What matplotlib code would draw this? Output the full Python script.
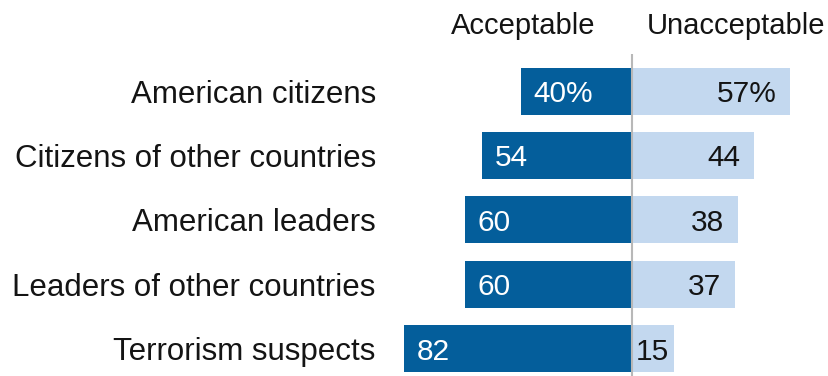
import matplotlib
matplotlib.use("Agg")

import matplotlib.pyplot as plt
import matplotlib.transforms as mtransforms

categories = [
    "American citizens",
    "Citizens of other countries",
    "American leaders",
    "Leaders of other countries",
    "Terrorism suspects",
]
acceptable = [40, 54, 60, 60, 82]
unacceptable = [57, 44, 38, 37, 15]
headers = ["Acceptable", "Unacceptable"]

DARK = "#045E9B"
LIGHT = "#C3D8EF"
TEXT = "#141414"

plt.rcParams["font.family"] = ["Liberation Sans", "DejaVu Sans"]

W, H = 829, 376
fig = plt.figure(figsize=(W / 100, H / 100), dpi=100)

# axes spans from just right of the row labels to the right edge
left_px, top_px = 380, 54
ax = fig.add_axes([left_px / W, 0, 1 - left_px / W, (H - top_px) / H])

px_per_unit = 2.78
zero_px = 632
ax.set_xlim((left_px - zero_px) / px_per_unit, (W - zero_px) / px_per_unit)
ax.set_ylim(4.425, -0.575)

rows = list(range(len(categories)))
ax.barh(rows, [-v for v in acceptable], height=0.73, color=DARK)
ax.barh(rows, unacceptable, height=0.73, color=LIGHT)
ax.axvline(0, color="#b8b8b8", linewidth=1.5, zorder=3)

for i, (a, u) in enumerate(zip(acceptable, unacceptable)):
    a_txt = f"{a}%" if i == 0 else str(a)
    u_txt = f"{u}%" if i == 0 else str(u)
    ax.text(-a + 4.5, i, a_txt, color="white", fontsize=21.5,
            ha="left", va="center_baseline")
    if u < 20:
        ax.text(1.5, i, u_txt, color=TEXT, fontsize=21.5,
                ha="left", va="center_baseline")
    else:
        ax.text(u - 5, i, u_txt, color=TEXT, fontsize=21.5,
                ha="right", va="center_baseline")

ax.set_yticks(rows)
ax.set_yticklabels(categories, fontsize=22.5, color=TEXT)
ax.tick_params(axis="y", length=0, pad=3)
ax.set_xticks([])
for s in ax.spines.values():
    s.set_visible(False)

# column headers above the bars
trans = mtransforms.blended_transform_factory(ax.transData, fig.transFigure)
ax.text(-39, 1 - 34 / H, headers[0], transform=trans, fontsize=21,
        color=TEXT, ha="center", va="baseline")
ax.text(37.5, 1 - 34 / H, headers[1], transform=trans, fontsize=21,
        color=TEXT, ha="center", va="baseline")

fig.savefig("out.png", dpi=100)
